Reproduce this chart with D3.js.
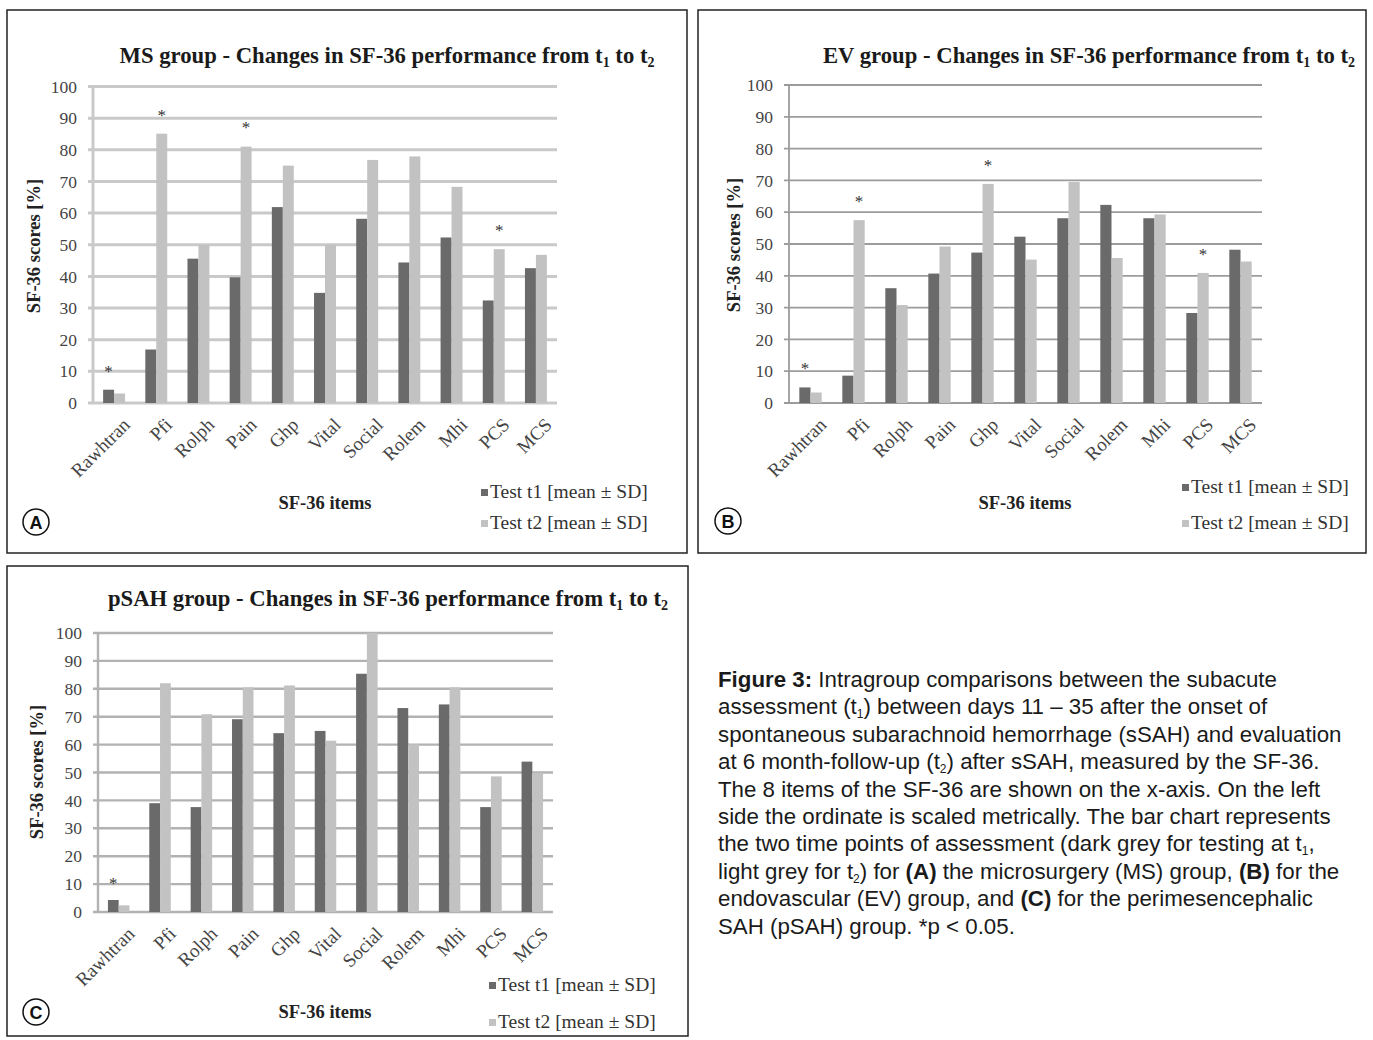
<!DOCTYPE html>
<html>
<head>
<meta charset="utf-8">
<title>SF-36 intragroup comparisons</title>
<script src="https://d3js.org/d3.v7.min.js"></script>
<style>
  body { margin: 0; background: #fff; }
  svg { display: block; }
  .serif { font-family: "Liberation Serif", "DejaVu Serif", serif; }
  .caption { font-family: "Liberation Sans", Arial, sans-serif; }
</style>
</head>
<body>
<script>
// ---- data ----
const items = ["Rawhtran", "Pfi", "Rolph", "Pain", "Ghp", "Vital", "Social", "Rolem", "Mhi", "PCS", "MCS"];
const yTicks = [0, 10, 20, 30, 40, 50, 60, 70, 80, 90, 100];
const seriesNames = ["Test t1 [mean \u00b1 SD]", "Test t2 [mean \u00b1 SD]"];

// MS group
const msT1 = [4.2, 16.9, 45.6, 39.7, 61.9, 34.8, 58.2, 44.4, 52.3, 32.4, 42.6];
const msT2 = [3.0, 85.1, 49.9, 81.0, 75.0, 50.0, 76.8, 77.9, 68.3, 48.6, 46.8];
const msStars = ["Rawhtran", "Pfi", "Pain", "PCS"];

// EV group
const evT1 = [4.9, 8.6, 36.1, 40.7, 47.3, 52.3, 58.1, 62.3, 58.1, 28.3, 48.2];
const evT2 = [3.3, 57.5, 30.8, 49.2, 68.9, 45.1, 69.5, 45.6, 59.3, 40.9, 44.5];
const evStars = ["Rawhtran", "Pfi", "Ghp", "PCS"];

// pSAH group
const psahT1 = [4.3, 39.0, 37.6, 69.1, 64.1, 64.9, 85.4, 73.1, 74.4, 37.6, 53.9];
const psahT2 = [2.4, 82.0, 70.9, 80.5, 81.2, 61.4, 100, 60.1, 80.5, 48.6, 49.9];
const psahStars = ["Rawhtran"];

const colors = ["#6a6a6a", "#c2c2c2"];

const svg = d3.select("body").append("svg")
  .attr("width", 1373).attr("height", 1040);

function drawPanel(p) {
  const g = svg.append("g");

  // frame
  g.append("rect")
    .attr("x", p.box[0]).attr("y", p.box[1])
    .attr("width", p.box[2] - p.box[0]).attr("height", p.box[3] - p.box[1])
    .attr("fill", "none").attr("stroke", "#222").attr("stroke-width", 1.5);

  const y = d3.scaleLinear().domain([0, 100]).range([p.y0, p.y100]);
  const x = d3.scaleBand().domain(items).range([p.x0, p.x1]);
  const xs = d3.scaleBand().domain([0, 1])
    .range([x.bandwidth() * 0.24, x.bandwidth() * 0.76]);

  // gridlines
  g.append("g").selectAll("line").data(yTicks).join("line")
    .attr("x1", p.x0 - 5).attr("x2", p.x1)
    .attr("y1", d => y(d)).attr("y2", d => y(d))
    .attr("stroke", p.grid).attr("stroke-width", p.gridW);
  g.append("line")
    .attr("x1", p.x0).attr("x2", p.x0)
    .attr("y1", y(0)).attr("y2", y(100))
    .attr("stroke", p.grid).attr("stroke-width", p.gridW);

  // y axis labels
  const ya = g.append("g").attr("class", "serif")
    .attr("transform", `translate(${p.x0 - 5},0)`)
    .call(d3.axisLeft(y).tickValues(yTicks).tickSize(0).tickPadding(11));
  ya.select(".domain").remove();
  ya.selectAll("text").attr("font-size", 17.5).attr("fill", "#444")
    .attr("font-family", "Liberation Serif, serif");

  // bars
  const rows = items.map((k, i) => ({ k, v: [p.t1[i], p.t2[i]] }));
  const grp = g.append("g").selectAll("g").data(rows).join("g")
    .attr("transform", d => `translate(${x(d.k)},0)`);
  grp.selectAll("rect").data(d => d.v.map((v, j) => ({ v, j }))).join("rect")
    .attr("x", d => xs(d.j))
    .attr("width", xs.bandwidth())
    .attr("y", d => y(d.v))
    .attr("height", d => y(0) - y(d.v))
    .attr("fill", d => colors[d.j]);

  // significance stars above the taller bar
  g.append("g").selectAll("text").data(rows.filter(d => p.stars.includes(d.k))).join("text")
    .attr("class", "serif")
    .attr("x", d => {
      const j = d.v[1] > d.v[0] ? 1 : 0;
      return x(d.k) + xs(j) + xs.bandwidth() / 2;
    })
    .attr("y", d => y(Math.max(d.v[0], d.v[1]) + 7) + 9)
    .attr("text-anchor", "middle")
    .attr("font-size", 17).attr("fill", "#333")
    .text("*");

  // x axis labels
  const xa = g.append("g").attr("class", "serif")
    .attr("transform", `translate(0,${p.y0})`)
    .call(d3.axisBottom(x).tickSize(0));
  xa.select(".domain").remove();
  xa.selectAll("text")
    .attr("font-size", 19).attr("fill", "#444")
    .attr("font-family", "Liberation Serif, serif")
    .attr("text-anchor", "end")
    .attr("dy", null).attr("y", 0)
    .attr("transform", "translate(17,23) rotate(-45)");

  // title
  const t = g.append("text").attr("class", "serif")
    .attr("x", p.titleX).attr("y", p.titleY)
    .attr("text-anchor", "middle")
    .attr("font-size", 22.7).attr("font-weight", "bold").attr("fill", "#1a1a1a");
  t.append("tspan").text(p.title + " - Changes in SF-36 performance from t");
  t.append("tspan").attr("font-size", 14).attr("dy", 4).text("1");
  t.append("tspan").attr("dy", -4).text(" to t");
  t.append("tspan").attr("font-size", 14).attr("dy", 4).text("2");

  // axis titles
  g.append("text").attr("class", "serif")
    .attr("transform", `translate(${p.yLabX},${p.yLabY}) rotate(-90)`)
    .attr("text-anchor", "middle")
    .attr("font-size", 18.5).attr("font-weight", "bold").attr("fill", "#222")
    .text("SF-36 scores [%]");
  g.append("text").attr("class", "serif")
    .attr("x", p.xLabX).attr("y", p.xLabY)
    .attr("text-anchor", "middle")
    .attr("font-size", 18.5).attr("font-weight", "bold").attr("fill", "#222")
    .text("SF-36 items");

  // legend
  const lg = g.append("g").selectAll("g").data(seriesNames).join("g")
    .attr("transform", (d, i) => `translate(${p.legX},${p.legY[i]})`);
  lg.append("rect").attr("x", 0).attr("y", -9).attr("width", 7).attr("height", 7)
    .attr("fill", (d, i) => colors[i]);
  lg.append("text").attr("class", "serif")
    .attr("x", 9).attr("y", 0)
    .attr("font-size", 19.5).attr("fill", "#333")
    .text(d => d);

  // panel letter
  g.append("circle").attr("cx", p.letter[0]).attr("cy", p.letter[1]).attr("r", 13)
    .attr("fill", "#fff").attr("stroke", "#111").attr("stroke-width", 1.5);
  g.append("text")
    .attr("x", p.letter[0]).attr("y", p.letter[1] + 6.5)
    .attr("text-anchor", "middle")
    .attr("font-family", "Liberation Sans, Arial, sans-serif")
    .attr("font-size", 18).attr("font-weight", "bold").attr("fill", "#111")
    .text(p.letterText);
}

drawPanel({
  title: "MS group", t1: msT1, t2: msT2, stars: msStars,
  box: [7, 10, 687, 553], x0: 93, x1: 557, y0: 403, y100: 86.5,
  grid: "#c9c9c9", gridW: 3,
  titleX: 387, titleY: 63, yLabX: 40, yLabY: 246, xLabX: 325, xLabY: 509,
  legX: 481, legY: [498, 529], letter: [36, 522], letterText: "A"
});

drawPanel({
  title: "EV group", t1: evT1, t2: evT2, stars: evStars,
  box: [698, 10, 1366, 553], x0: 789, x1: 1262, y0: 403, y100: 85,
  grid: "#9c9c9c", gridW: 1.8,
  titleX: 1089, titleY: 63, yLabX: 740, yLabY: 245, xLabX: 1025, xLabY: 509,
  legX: 1182, legY: [493, 529], letter: [728, 521], letterText: "B"
});

drawPanel({
  title: "pSAH group", t1: psahT1, t2: psahT2, stars: psahStars,
  box: [7, 566, 688, 1036], x0: 98, x1: 553, y0: 912, y100: 633,
  grid: "#b2b2b2", gridW: 2.4,
  titleX: 388, titleY: 606, yLabX: 43, yLabY: 772, xLabX: 325, xLabY: 1018,
  legX: 489, legY: [991, 1028], letter: [36, 1012], letterText: "C"
});

// ---- caption ----
const captionLines = [
  [{ t: "Figure 3:", b: true }, { t: " Intragroup comparisons between the subacute" }],
  [{ t: "assessment (t" }, { t: "1", sub: true }, { t: ") between days 11 \u2013 35 after the onset of" }],
  [{ t: "spontaneous subarachnoid hemorrhage (sSAH) and evaluation" }],
  [{ t: "at 6 month-follow-up (t" }, { t: "2", sub: true }, { t: ") after sSAH, measured by the SF-36." }],
  [{ t: "The 8 items of the SF-36 are shown on the x-axis. On the left" }],
  [{ t: "side the ordinate is scaled metrically. The bar chart represents" }],
  [{ t: "the two time points of assessment (dark grey for testing at t" }, { t: "1", sub: true }, { t: "," }],
  [{ t: "light grey for t" }, { t: "2", sub: true }, { t: ") for " }, { t: "(A)", b: true }, { t: " the microsurgery (MS) group, " }, { t: "(B)", b: true }, { t: " for the" }],
  [{ t: "endovascular (EV) group, and " }, { t: "(C)", b: true }, { t: " for the perimesencephalic" }],
  [{ t: "SAH (pSAH) group. *p < 0.05." }]
];

const cap = svg.append("g").attr("class", "caption");
captionLines.forEach((segs, i) => {
  const tx = cap.append("text")
    .attr("x", 718).attr("y", 687 + i * 27.4)
    .attr("font-size", 22.3).attr("fill", "#1a1a1a");
  let lift = 0;
  segs.forEach(s => {
    if (s.sub) {
      tx.append("tspan").attr("font-size", 12).attr("dy", 4).text(s.t);
      lift = -4;
    } else {
      tx.append("tspan")
        .attr("dy", lift || null)
        .attr("font-weight", s.b ? "bold" : null)
        .text(s.t);
      lift = 0;
    }
  });
});
</script>
</body>
</html>
